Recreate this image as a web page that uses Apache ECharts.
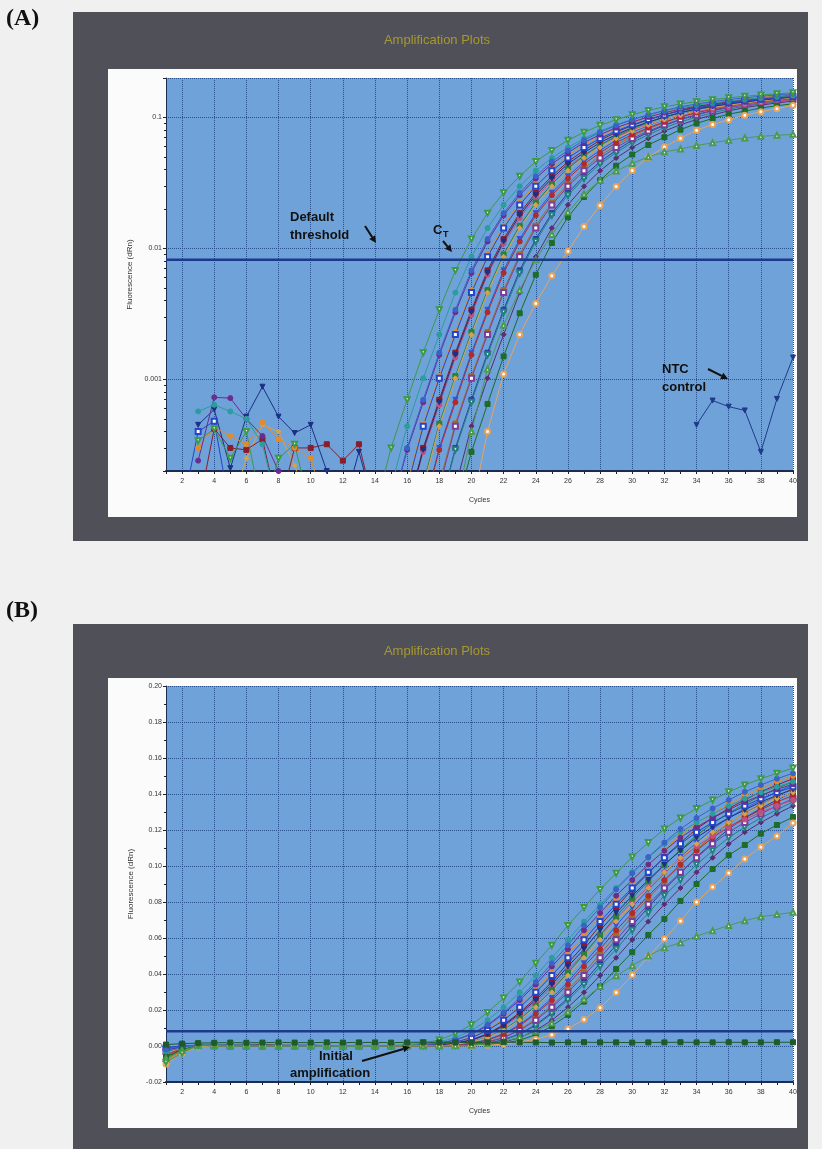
<!DOCTYPE html>
<html><head><meta charset="utf-8">
<script src="https://cdn.jsdelivr.net/npm/echarts@6/dist/echarts.min.js"></script>
<style>html,body{margin:0;padding:0;background:#f0f0f0;}#c{width:822px;height:1149px;}</style>
</head><body><div id="c"></div>
<script>
// ---------------- DATA ----------------
const cycles = [1,2,3,4,5,6,7,8,9,10,11,12,13,14,15,16,17,18,19,20,21,22,23,24,25,26,27,28,29,30,31,32,33,34,35,36,37,38,39,40];
const threshold = 0.0082;
const yTicksA = [0.001, 0.01, 0.1];

const wellG1 = [-0.009,-0.004,0.00034,0.00042,0.00025,0.0004,0.0001,0.00025,0.00032,0.0001,0.0001,0.0001,0.0001,
  0.0001,0.0003,0.0007,0.0016,0.0034,0.0068,0.0118,0.0186,0.0266,0.0356,0.046,0.056,0.067,0.077,0.087,0.096,0.105,0.113,0.1206,0.1267,0.132,0.1367,0.1412,0.145,0.1485,0.1515,0.1544];
const wellC1 = [-0.003,-0.001,0.00057,0.00064,0.00057,0.0005,0.00032,0.0001,0.0001,0.0001,0.0001,0.0001,0.0001,0.0001,
  0.00015,0.00044,0.00102,0.0022,0.0046,0.00864,0.0143,0.0215,0.0298,0.0392,0.049,0.059,0.0691,0.0787,0.0878,0.0965,0.1046,0.1123,0.1188,0.1242,0.129,0.1334,0.1374,0.1409,0.144,0.1469];
const wellC2 = [-0.002,-0.0005,0.00024,0.00073,0.00072,0.0005,0.00037,0.0002,0.0001,0.0001,0.0001,0.0001,0.0001,0.0001,0.0001,
  0.00029,0.00067,0.00154,0.00326,0.0065,0.0113,0.0179,0.0255,0.0342,0.0442,0.0538,0.0643,0.0739,0.0835,0.0922,0.1008,0.1085,0.1158,0.1216,0.1267,0.1312,0.1356,0.1392,0.1426,0.1454];
const wellC3 = [-0.001,0.0001,0.0004,0.00048,0.0001,0.0001,0.0001,0.0001,0.0001,0.0001,0.0001,0.0001,0.0001,0.0001,0.0001,
  0.00015,0.00044,0.00102,0.0022,0.0046,0.00864,0.0143,0.0215,0.0298,0.0392,0.049,0.059,0.0691,0.0787,0.0878,0.0965,0.1046,0.1123,0.1188,0.1242,0.129,0.1334,0.1374,0.1409,0.144];
const wellC4 = [-0.008,-0.003,0.0003,0.00043,0.00037,0.00032,0.00047,0.00035,0.0003,0.00025,0.0001,0.0001,0.0001,0.0001,0.0001,
  0.00016,0.00046,0.00106,0.0023,0.0048,0.009,0.0149,0.0224,0.031,0.0408,0.051,0.0615,0.072,0.082,0.0915,0.1005,0.109,0.117,0.1237,0.1294,0.1344,0.139,0.1431,0.1468,0.15];
const wellC5 = [-0.002,-0.0005,0.00045,0.00059,0.00021,0.00052,0.00088,0.00052,0.00039,0.00045,0.0002,0.0001,0.00028,0.0001,0.0001,0.0001,
  0.00029,0.00067,0.00154,0.00326,0.0065,0.0113,0.0179,0.0255,0.0342,0.0442,0.0538,0.0643,0.0739,0.0835,0.0922,0.1008,0.1085,0.1158,0.1216,0.1267,0.1312,0.1356,0.1392,0.1426];
const wellC6 = [-0.006,-0.002,0.0001,0.00042,0.0003,0.00029,0.00035,0.0001,0.0003,0.0003,0.00032,0.00024,0.00032,0.0001,0.0001,0.0001,
  0.0003,0.0007,0.0016,0.0034,0.0068,0.0118,0.0186,0.0266,0.0356,0.046,0.056,0.067,0.077,0.087,0.096,0.105,0.113,0.1206,0.1267,0.132,0.1367,0.1412,0.145,0.1485];
const wellC7 = [-0.004,-0.001,0.0001,0.0001,0.0001,0.00025,0.00045,0.0004,0.00022,0.0001,0.0001,0.0001,0.0001,0.0001,0.0001,0.0001,
  0.00015,0.00044,0.00102,0.0022,0.0046,0.00864,0.0143,0.0215,0.0298,0.0392,0.049,0.059,0.0691,0.0787,0.0878,0.0965,0.1046,0.1123,0.1188,0.1242,0.129,0.1334,0.1374,0.1409];
const wellC8 = [-0.007,-0.0025,0.0001,0.0001,0.0001,0.0001,0.0001,0.0001,0.0001,0.0001,0.0001,0.0001,0.0001,0.0001,0.0001,0.0001,
  0.00016,0.00046,0.00106,0.0023,0.0048,0.009,0.0149,0.0224,0.031,0.0408,0.051,0.0615,0.072,0.082,0.0915,0.1005,0.109,0.117,0.1237,0.1294,0.1344,0.139,0.1431,0.1468];
const wellC9 = [-0.005,-0.0015,0.0001,0.0001,0.0001,0.0001,0.0001,0.0001,0.0001,0.0001,0.0001,0.0001,0.0001,0.0001,0.0001,0.0001,0.0001,
  0.00029,0.00067,0.00154,0.00326,0.0065,0.0113,0.0179,0.0255,0.0342,0.0442,0.0538,0.0643,0.0739,0.0835,0.0922,0.1008,0.1085,0.1158,0.1216,0.1267,0.1312,0.1356,0.1392];
const wellC10 = [-0.001,0.0001,0.0001,0.0001,0.0001,0.0001,0.0001,0.0001,0.0001,0.0001,0.0001,0.0001,0.0001,0.0001,0.0001,0.0001,0.0001,
  0.0003,0.0007,0.0016,0.0034,0.0068,0.0118,0.0186,0.0266,0.0356,0.046,0.056,0.067,0.077,0.087,0.096,0.105,0.113,0.1206,0.1267,0.132,0.1367,0.1412,0.145];
const wellC11 = [-0.003,-0.001,0.0001,0.0001,0.0001,0.0001,0.0001,0.0001,0.0001,0.0001,0.0001,0.0001,0.0001,0.0001,0.0001,0.0001,0.0001,
  0.00015,0.00044,0.00102,0.0022,0.0046,0.00864,0.0143,0.0215,0.0298,0.0392,0.049,0.059,0.0691,0.0787,0.0878,0.0965,0.1046,0.1123,0.1188,0.1242,0.129,0.1334,0.1374];
const wellC12 = [-0.008,-0.003,0.0001,0.0001,0.0001,0.0001,0.0001,0.0001,0.0001,0.0001,0.0001,0.0001,0.0001,0.0001,0.0001,0.0001,0.0001,
  0.00016,0.00046,0.00106,0.0023,0.0048,0.009,0.0149,0.0224,0.031,0.0408,0.051,0.0615,0.072,0.082,0.0915,0.1005,0.109,0.117,0.1237,0.1294,0.1344,0.139,0.1431];
const wellC13 = [-0.002,-0.0005,0.0001,0.0001,0.0001,0.0001,0.0001,0.0001,0.0001,0.0001,0.0001,0.0001,0.0001,0.0001,0.0001,0.0001,0.0001,0.0001,
  0.00029,0.00067,0.00154,0.00326,0.0065,0.0113,0.0179,0.0255,0.0342,0.0442,0.0538,0.0643,0.0739,0.0835,0.0922,0.1008,0.1085,0.1158,0.1216,0.1267,0.1312,0.1356];
const wellC14 = [-0.004,-0.0015,0.0001,0.0001,0.0001,0.0001,0.0001,0.0001,0.0001,0.0001,0.0001,0.0001,0.0001,0.0001,0.0001,0.0001,0.0001,0.0001,
  0.00015,0.00044,0.00102,0.0022,0.0046,0.00864,0.0143,0.0215,0.0298,0.0392,0.049,0.059,0.0691,0.0787,0.0878,0.0965,0.1046,0.1123,0.1188,0.1242,0.129,0.1334];
const wellC15 = [-0.005,-0.002,0.0001,0.0001,0.0001,0.0001,0.0001,0.0001,0.0001,0.0001,0.0001,0.0001,0.0001,0.0001,0.0001,0.0001,
  0.00028,0.00064,0.00147,0.0031,0.0063,0.0109,0.0171,0.0245,0.0328,0.0423,0.0515,0.0616,0.0708,0.08,0.0883,0.0966,0.104,0.111,0.1166,0.1214,0.1258,0.1299,0.1334,0.1366];
const wellC16 = [-0.003,-0.001,0.0001,0.0001,0.0001,0.0001,0.0001,0.0001,0.0001,0.0001,0.0001,0.0001,0.0001,0.0001,0.0001,0.0001,0.0001,0.0001,
  0.0003,0.0007,0.0016,0.0034,0.0068,0.0118,0.0186,0.0266,0.0356,0.046,0.056,0.067,0.077,0.087,0.096,0.105,0.113,0.1206,0.1267,0.132,0.1367,0.1412];
const wellC17 = [-0.002,0.0001,0.0001,0.0001,0.0001,0.0001,0.0001,0.0001,0.0001,0.0001,0.0001,0.0001,0.0001,0.0001,0.0001,
  0.0003,0.0007,0.0016,0.0034,0.0068,0.0118,0.0186,0.0266,0.0356,0.046,0.056,0.067,0.077,0.087,0.096,0.105,0.113,0.1206,0.1267,0.132,0.1367,0.1412,0.145,0.1485,0.1515];
const wellDG = [-0.006,-0.002,0.0001,0.0001,0.0001,0.0001,0.0001,0.0001,0.0001,0.0001,0.0001,0.0001,0.0001,0.0001,0.0001,0.0001,0.0001,0.0001,
  0.0001,0.00028,0.00065,0.0015,0.0032,0.0063,0.011,0.0173,0.0247,0.0331,0.0428,0.0521,0.0617,0.0706,0.0806,0.09,0.0983,0.106,0.1117,0.118,0.1228,0.1272];
const wellOR = [-0.01,-0.004,-0.0005,0.0001,0.0001,0.0001,0.0001,0.0001,0.0001,0.0001,0.0001,0.0001,0.0001,0.0001,0.0001,0.0001,0.0001,0.0001,0.0001,
  0.0001,0.0004,0.0011,0.0022,0.0038,0.0062,0.0095,0.0147,0.0213,0.0297,0.0394,0.0495,0.0594,0.0694,0.08,0.0883,0.0961,0.1039,0.1106,0.1167,0.1239];
const wellLG = [-0.007,-0.0025,0.0001,0.0001,0.0001,0.0001,0.0001,0.0001,0.0001,0.0001,0.0001,0.0001,0.0001,0.0001,0.0001,0.0001,0.0001,0.0001,
  0.0001,0.0004,0.0012,0.0026,0.0048,0.0082,0.0128,0.019,0.026,0.033,0.039,0.0446,0.05,0.0546,0.0574,0.061,0.064,0.067,0.0696,0.0718,0.073,0.0743];
const ntcA = [null,null,null,null,null,null,null,null,null,null,null,null,null,null,null,null,null,null,null,null,
  null,null,null,null,null,null,null,null,null,null,null,null,null,0.00045,0.00069,0.00062,0.00058,0.00028,0.00071,0.00147];
const ntcB = [0.0008,0.0013,0.0016,0.0018,0.0019,0.0018,0.0019,0.002,0.0019,0.0019,0.002,0.0019,0.002,0.002,0.0019,0.002,0.0021,0.002,0.002,0.0019,
  0.002,0.0021,0.002,0.002,0.0019,0.002,0.0021,0.002,0.002,0.0019,0.002,0.002,0.0021,0.002,0.002,0.0021,0.002,0.002,0.0021,0.0021];

// ---------------- STYLES ----------------
const wells = [
  {d: wellC16, c:'#2b3f9e', s:'rect'},
  {d: wellC14, c:'#5b2c6f', s:'diamond'},
  {d: wellC13, c:'#23807f', s:'emptyTriangle', r:180},
  {d: wellC12, c:'#a06a2c', s:'rect'},
  {d: wellC11, c:'#7a3f98', s:'emptyRect'},
  {d: wellC10, c:'#3553d6', s:'triangle', r:180},
  {d: wellC9,  c:'#b22a2a', s:'circle'},
  {d: wellC15, c:'#c05080', s:'circle'},
  {d: wellC8,  c:'#2f7f3a', s:'rect'},
  {d: wellC7,  c:'#d6a24e', s:'diamond'},
  {d: wellC6,  c:'#8b1c2c', s:'rect'},
  {d: wellC5,  c:'#1d2f86', s:'triangle', r:180},
  {d: wellC4,  c:'#e38b2c', s:'circle'},
  {d: wellC3,  c:'#2546c8', s:'emptyRect'},
  {d: wellC2,  c:'#6b2c91', s:'circle'},
  {d: wellC1,  c:'#2a9d9d', s:'circle'},
  {d: wellC17, c:'#3a62c8', s:'circle'},
  {d: wellDG,  c:'#1e6b2a', s:'rect'},
  {d: wellOR,  c:'#e8a45a', s:'emptyCircle'},
  {d: wellLG,  c:'#4c9a50', s:'emptyTriangle'},
  {d: wellG1,  c:'#3c9a46', s:'emptyTriangle', r:180}
];
const font = "'Liberation Sans', Arial, sans-serif";
const gridBlue = '#6fa2d8';
const dotCol = '#27508f';
const axisCol = '#1b2b55';

function xAxisFor(gi){
  return {
    type:'category', gridIndex:gi, data:cycles.map(String), boundaryGap:false,
    name:'Cycles', nameLocation:'middle', nameGap:26,
    nameTextStyle:{fontSize:7, color:'#333', fontFamily:font},
    axisLine:{onZero:false, lineStyle:{color:axisCol, width:2}},
    axisTick:{show:true, interval:0, length:3, lineStyle:{color:'#222'}},
    axisLabel:{interval:(i,v)=>Number(v)%2===0, fontSize:7, color:'#333', margin:7, fontFamily:font},
    splitLine:{show:true, interval:(i,v)=>Number(v)%2===0, lineStyle:{color:dotCol, type:'dotted', width:1}}
  };
}
function lineSeries(def, gi, data){
  return {
    type:'line', xAxisIndex:gi, yAxisIndex:gi, data:data,
    color:def.c, symbol:def.s, symbolSize:5, symbolRotate:def.r||0,
    lineStyle:{width:1, color:def.c}, itemStyle:{color:def.c, borderColor:def.c},
    showAllSymbol:true, connectNulls:false, clip:true, animation:false, silent:true, z:3
  };
}
const series = [];
wells.forEach(w => series.push(lineSeries(w, 0, w.d.map(v => v > 0 ? v : null))));
series.push(lineSeries({c:'#1f3a8a', s:'triangle', r:180}, 0, ntcA));
wells.forEach(w => series.push(lineSeries(w, 1, w.d)));
series.push(lineSeries({c:'#1e5a2a', s:'rect'}, 1, ntcB));
const thresholdLine = (gi) => ({
  type:'line', xAxisIndex:gi, yAxisIndex:gi, data:cycles.map(() => threshold),
  symbol:'none', silent:true, animation:false, z:4,
  lineStyle:{color:'#1c3a8c', width:2.5, type:'solid'}
});
series.push(thresholdLine(0)); series.push(thresholdLine(1));

function arrow(x1,y1,x2,y2){
  const a = Math.atan2(y2-y1, x2-x1), L=7, W=3.5;
  const bx = x2 - L*Math.cos(a), by = y2 - L*Math.sin(a);
  return [
    {type:'line', shape:{x1:x1,y1:y1,x2:bx,y2:by}, style:{stroke:'#111', lineWidth:2}, z:100},
    {type:'polygon', shape:{points:[[x2,y2],[bx+W*Math.sin(a), by-W*Math.cos(a)],[bx-W*Math.sin(a), by+W*Math.cos(a)]]}, style:{fill:'#111'}, z:100}
  ];
}
function txt(x,y,t,f,col,al){
  return {type:'text', x:x, y:y, z:100, style:{text:t, font:f, fill:col||'#111', textAlign:al||'left', textVerticalAlign:'middle'}};
}
const annFont = "bold 13px 'Liberation Sans', Arial, sans-serif";
const graphic = [
  {type:'rect', shape:{x:73,y:12,width:735,height:529}, style:{fill:'#505058'}, z:-100},
  {type:'rect', shape:{x:108,y:69,width:689,height:448}, style:{fill:'#fbfbfb'}, z:-99},
  {type:'rect', shape:{x:73,y:624,width:735,height:525}, style:{fill:'#505058'}, z:-100},
  {type:'rect', shape:{x:108,y:678,width:689,height:450}, style:{fill:'#fbfbfb'}, z:-99},
  txt(6,19,'(A)',"bold 24px 'Liberation Serif', serif",'#111'),
  txt(6,611,'(B)',"bold 24px 'Liberation Serif', serif",'#111'),
  txt(437,40,'Amplification Plots',"13px 'Liberation Sans', Arial, sans-serif",'#a8982e','center'),
  txt(437,651,'Amplification Plots',"13px 'Liberation Sans', Arial, sans-serif",'#a8982e','center'),
  txt(290,217,'Default',annFont), txt(290,235,'threshold',annFont),
  txt(433,230,'C',annFont), txt(443,235,'T',"bold 9px 'Liberation Sans', Arial, sans-serif"),
  txt(662,369,'NTC',annFont), txt(662,387,'control',annFont),
  txt(319,1056,'Initial',annFont), txt(290,1073,'amplification',annFont),
  ...arrow(365,226,376,243),
  ...arrow(443,241,452,252),
  ...arrow(708,369,728,379),
  ...arrow(362,1061,410,1047)
];

const option = {
  backgroundColor:'#f0f0f0',
  animation:false,
  grid:[
    {left:166, top:78, width:627, height:393, show:true, backgroundColor:gridBlue, borderWidth:0},
    {left:166, top:686, width:627, height:396, show:true, backgroundColor:gridBlue, borderWidth:0}
  ],
  xAxis:[xAxisFor(0), xAxisFor(1)],
  yAxis:[
    {type:'log', gridIndex:0, logBase:10, min:0.0002, max:0.2,
     name:'Fluorescence (dRn)', nameLocation:'middle', nameGap:31, nameRotate:90,
     nameTextStyle:{fontSize:8, color:'#333', fontFamily:font},
     axisLine:{show:true, lineStyle:{color:axisCol, width:1}},
     axisTick:{show:true, length:3, lineStyle:{color:'#222'}},
     minorTick:{show:true, splitNumber:9, length:2, lineStyle:{color:'#222'}},
     axisLabel:{fontSize:7, color:'#333', margin:4, fontFamily:font, showMinLabel:false, showMaxLabel:false,
       formatter:(v)=>{ const m = yTicksA.find(t => Math.abs(t - v) < t*1e-6); return m ? String(m) : ''; }},
     splitLine:{show:true, lineStyle:{color:dotCol, type:'dotted', width:1}}
    },
    {type:'value', gridIndex:1, min:-0.02, max:0.2, interval:0.02,
     name:'Fluorescence (dRn)', nameLocation:'middle', nameGap:29, nameRotate:90,
     nameTextStyle:{fontSize:8, color:'#333', fontFamily:font},
     axisLine:{show:true, onZero:false, lineStyle:{color:axisCol, width:1}},
     axisTick:{show:true, length:3, lineStyle:{color:'#222'}},
     minorTick:{show:true, splitNumber:2, length:2, lineStyle:{color:'#222'}},
     axisLabel:{fontSize:7, color:'#333', margin:4, fontFamily:font, formatter:(v)=>v.toFixed(2)},
     splitLine:{show:true, lineStyle:{color:dotCol, type:'dotted', width:1}}
    }
  ],
  series: series,
  graphic: graphic
};
const chart = echarts.init(document.getElementById('c'), null, {renderer:'canvas', width:822, height:1149});
chart.setOption(option);
</script></body></html>
